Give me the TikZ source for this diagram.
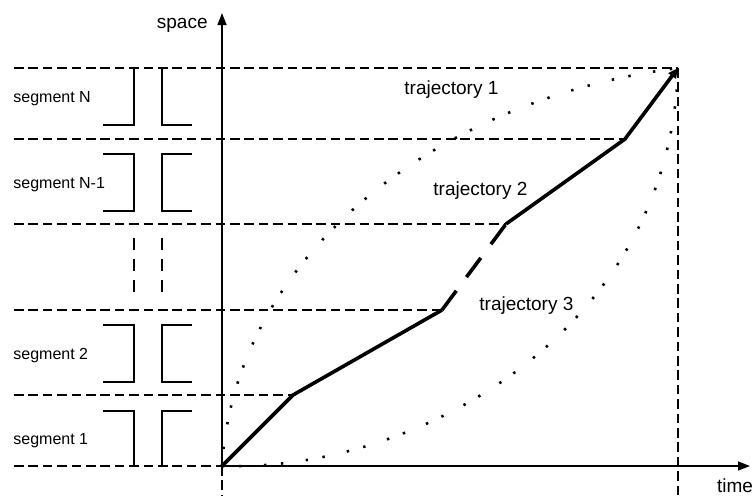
\documentclass[tikz,border=0pt]{standalone}
\usepackage{fontspec}
\setmainfont{Liberation Sans}
\usetikzlibrary{arrows.meta,positioning}

\begin{document}
\begin{tikzpicture}[x=0.5pt,y=0.5pt,>={Triangle[length=6pt,width=4.5pt]},
axis/.style={line width=0.8pt},
guide/.style={line width=1pt,dash pattern=on 4.8pt off 2.4pt},
pipe/.style={line width=0.9pt},
gapline/.style={line width=1.4pt,dash pattern=on 6pt off 4.5pt},
route/.style={line width=1.8pt,line join=round},
dotted route/.style={line width=1.3pt,dash pattern=on 1.2pt off 7.3pt on 1.2pt off 11.3pt},
lbl/.style={font=\fontsize{9.5}{11}\selectfont,inner sep=0pt},
seglbl/.style={font=\fontsize{8}{10}\selectfont,inner sep=0pt,anchor=base west}]
\useasboundingbox (-222,-29) rectangle (534,466);
% reference points
\coordinate (O) at (0,0);
\coordinate (L) at (-208,0);
\coordinate (B) at (0,-29);
\coordinate (ytip) at (0,453);
\coordinate (xtip) at (528,0);
\coordinate (k1) at (71,71);
\coordinate (k2) at (220,156);
\coordinate (k3) at (284,242);
\coordinate (k4) at (403,327);
\coordinate (goal) at (456,398);
% segment borders
\draw[guide] (L) -- (O);
\foreach \k in {k1,k2,k3,k4,goal}
  \draw[guide] (L |- \k) -- (\k);
\draw[guide] (goal) -- (goal |- B);
\draw[guide] (O) -- (B);
% axes
\draw[axis,->] (O) -- (ytip);
\draw[axis,->] (O) -- (xtip);
\node[lbl,anchor=base east] (space) at (-14,438) {space};
\node[lbl,anchor=base] (time) at (513,-26) {time};
% segments
\node[seglbl] (segN) at (-209,364) {segment N};
\node[seglbl] (segN1) at (-209,278) {segment N-1};
\node[seglbl] (seg2) at (-209,107) {segment 2};
\node[seglbl] (seg1) at (-209,22) {segment 1};
\draw[pipe] (-119,341) -| (-88,398);
\draw[pipe] (-30,341) -| (-60,398);
\draw[pipe] (-119,312) -| (-88,255) -- (-119,255);
\draw[pipe] (-30,312) -| (-60,255) -- (-30,255);
\draw[gapline] (-88,228) -- (-88,169);
\draw[gapline] (-60,228) -- (-60,169);
\draw[pipe] (-119,141) -| (-88,84) -- (-119,84);
\draw[pipe] (-30,141) -| (-60,84) -- (-30,84);
\draw[pipe] (-119,55) -| (-88,0);
\draw[pipe] (-30,55) -| (-60,0);
% trajectories
\draw[dotted route] (O) .. controls (13,206) and (208,366) .. (goal);
\draw[dotted route] (O) .. controls (198,-6) and (448,136) .. (goal);
\draw[route] (O) -- (k1) -- (k2);
\draw[route,dash pattern=on 12pt off 8.5pt] (k2) -- (k3);
\draw[route,-{Triangle[length=5pt,width=4.5pt]}] (k3) -- (k4) -- (goal);
\node[lbl,anchor=base west] (traj1) at (182,372) {trajectory 1};
\node[lbl,anchor=base west] (traj2) at (211,271) {trajectory 2};
\node[lbl,anchor=base west] (traj3) at (257,156) {trajectory 3};
\end{tikzpicture}
\end{document}
